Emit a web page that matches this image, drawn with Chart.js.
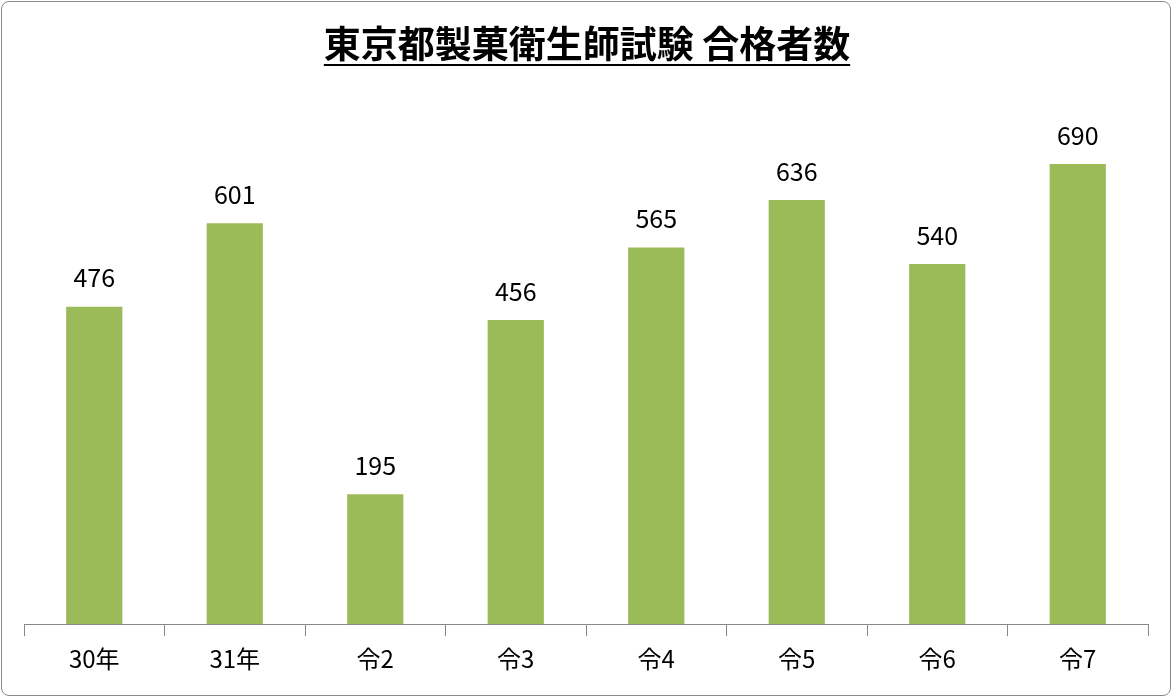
<!DOCTYPE html>
<html><head><meta charset="utf-8">
<script src="https://cdn.jsdelivr.net/npm/chart.js@4"></script>
<style>
html,body{margin:0;padding:0;background:#fff;}
#wrap{position:absolute;left:1px;top:1px;width:1168px;height:693px;border:1px solid #8a8a8a;border-radius:8px;}
canvas{position:absolute;left:0;top:0;}
</style></head><body>
<div id="wrap"></div>
<canvas id="c" width="1172" height="697"></canvas>
<script>
const categories=['30年','31年','令2','令3','令4','令5','令6','令7'];
const passers=[476,601,195,456,565,636,540,690];
const titleText='東京都製菓衛生師試験 合格者数';
const FONT='"Noto Sans CJK JP","Noto Sans",sans-serif';
const deco={id:'deco',afterDatasetsDraw(ch){
  const ctx=ch.ctx;ctx.save();
  ctx.fillStyle='#000';ctx.textAlign='center';ctx.textBaseline='middle';
  ctx.font='bold 37px '+FONT;
  ctx.fillText(titleText,587,44);
  const w=ctx.measureText(titleText).width;
  ctx.fillRect(587-w/2,64,w,2);
  ctx.font='25px '+FONT;
  const meta=ch.getDatasetMeta(0);
  meta.data.forEach((b,i)=>{ctx.fillText(String(passers[i]),b.x,b.y-29);});
  ctx.restore();
}};
new Chart(document.getElementById('c'),{
  type:'bar',
  data:{labels:categories,datasets:[{data:passers,backgroundColor:'#9bbb59',borderWidth:0,barPercentage:0.4,categoryPercentage:1}]},
  options:{responsive:false,animation:false,
    layout:{padding:{top:124,left:24,right:24,bottom:16}},
    plugins:{legend:{display:false},tooltip:{enabled:false}},
    scales:{
      y:{display:false,min:0,max:750},
      x:{grid:{display:true,drawOnChartArea:false,tickLength:12,color:'#888',offset:true},
         border:{color:'#888'},
         ticks:{color:'#000',font:{size:24,family:FONT},padding:8}}
    }},
  plugins:[deco]
});
</script></body></html>
